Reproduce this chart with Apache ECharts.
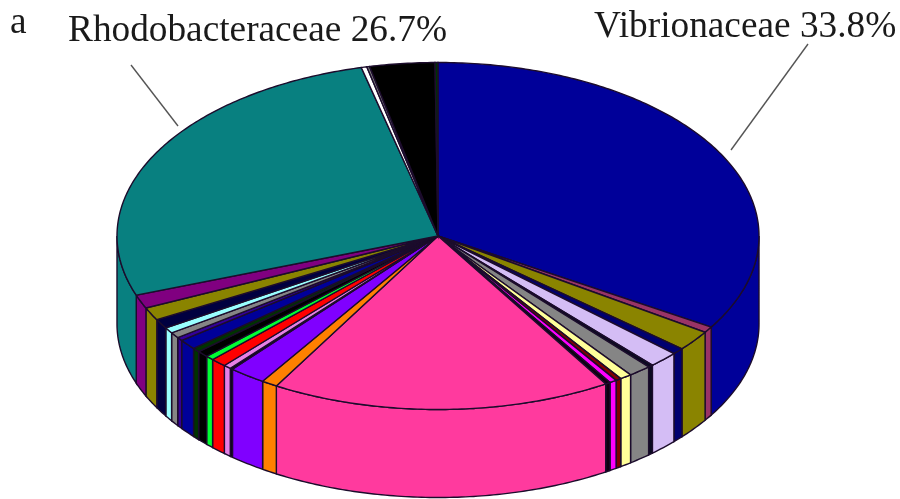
<!DOCTYPE html>
<html>
<head>
<meta charset="utf-8">
<style>html,body{margin:0;padding:0;background:#fff}#c{width:900px;height:499px}</style>
<script src="https://cdn.jsdelivr.net/npm/echarts@6/dist/echarts.min.js"></script>
</head>
<body>
<div id="c"></div>
<script>
const panelLabel = 'a';
const families = ['Vibrionaceae','','','','','','','','','','','','','','','','','','','','','','','','','','','Rhodobacteraceae','','','',''];
const shares = [33.8,0.56,1.9,0.6,1.5,0.25,1.15,0.6,0.28,0.36,0.25,17.15,0.8,1.86,0.14,0.39,0.8,0.42,0.58,0.39,0.94,0.33,0.53,0.53,0.88,1.2,1.27,26.7,0.28,0.14,3.27,0.15];
const colors = ['#000099','#993366','#8A8400','#000070','#D4BDF5','#0A0A20','#858585','#FFFF99','#800000','#FF00FF','#100010','#FF3A9E','#FF8000','#8000FF','#100020','#E680E6','#FF0000','#00FF33','#000000','#003300','#000099','#330099','#858585','#99FFFF','#000040','#8A8400','#800080','#088080','#FFFFFF','#777777','#000000','#003300'];

const total = shares.reduce((a, b) => a + b, 0);
let running = 0;
const rows = shares.map((v, i) => { const s = running; running += v; return [s, running, i]; });

const cx = 438, cy = 236, rx = 321, ry = 173.5, depth = 88;
const edge = '#1C0C2C';

function rim(share, dy) {
  const t = share / total * 2 * Math.PI;
  return [cx + rx * Math.sin(t), cy - ry * Math.cos(t) + (dy || 0)];
}
function arc(a, b, dy) {
  const n = Math.max(2, Math.ceil((b - a) / 0.2));
  const pts = [];
  for (let k = 0; k <= n; k++) pts.push(rim(a + (b - a) * k / n, dy));
  return pts;
}
function renderSlice(params, api) {
  const a = api.value(0), b = api.value(1), idx = api.value(2);
  const fill = colors[idx];
  const children = [];
  // the visible wall is the front half of the disc
  const lo = Math.max(a, 25), hi = Math.min(b, 75);
  if (hi > lo) {
    children.push({
      type: 'polygon',
      shape: { points: arc(lo, hi, 0).concat(arc(lo, hi, depth).reverse()) },
      style: { fill: fill, stroke: edge, lineWidth: 1.4 }
    });
  }
  children.push({
    type: 'polygon',
    shape: { points: [[cx, cy]].concat(arc(a, b, 0)) },
    style: { fill: fill, stroke: edge, lineWidth: 1.4 }
  });
  return { type: 'group', children: children };
}

const serif = '"Liberation Serif","Times New Roman",serif';
const textStyle = (x, y, text) => ({
  type: 'text', left: x, top: y, silent: true,
  style: { text: text, font: '37.3px ' + serif, fill: '#1a1a1a' }
});
const labelOf = i => families[i] + ' ' + shares[i].toFixed(1) + '%';

const chart = echarts.init(document.getElementById('c'), null, { renderer: 'canvas' });
chart.setOption({
  animation: false,
  backgroundColor: '#fff',
  series: [{
    type: 'custom',
    coordinateSystem: 'none',
    renderItem: renderSlice,
    encode: { value: [0, 1] },
    data: rows,
    silent: true
  }],
  graphic: [
    textStyle(10, 5, panelLabel),
    textStyle(68, 13, labelOf(27)),
    textStyle(594, 9, labelOf(0)),
    { type: 'line', silent: true, shape: { x1: 131, y1: 65, x2: 178, y2: 126 }, style: { stroke: '#555', lineWidth: 1.4 } },
    { type: 'line', silent: true, shape: { x1: 808, y1: 44, x2: 731, y2: 150 }, style: { stroke: '#555', lineWidth: 1.4 } }
  ]
});
</script>
</body>
</html>
